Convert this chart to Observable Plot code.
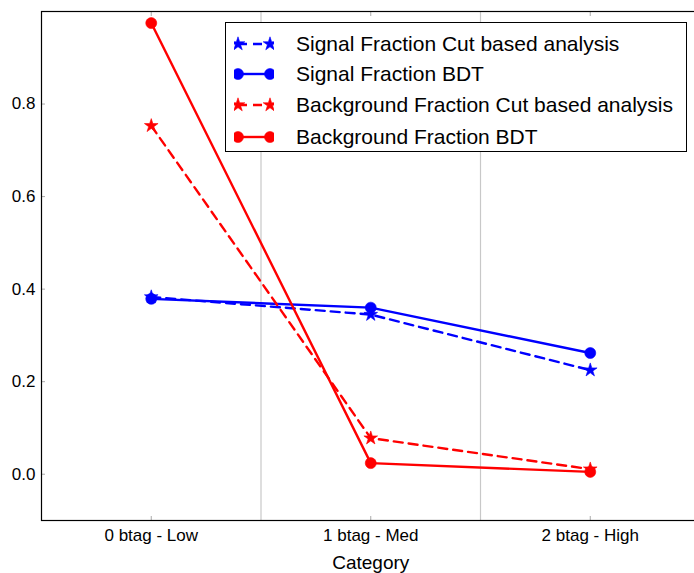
<!DOCTYPE html>
<html><head><meta charset="utf-8">
<script src="https://cdn.jsdelivr.net/npm/d3@7"></script>
<script src="https://cdn.jsdelivr.net/npm/@observablehq/plot@0.6"></script>
<style>
html,body{margin:0;padding:0;background:#fff;}
#wrap{position:relative;width:694px;height:573px;overflow:hidden;font-family:"Liberation Sans",Arial,Helvetica,sans-serif;}
#wrap > svg{max-width:none !important;width:700px;height:573px;}
#legend{position:absolute;left:225px;top:22px;width:462px;height:130px;border:1.3px solid #000;background:#fff;box-sizing:border-box;}
.row{position:absolute;left:0;height:30px;display:flex;align-items:center;}
.row svg{margin-left:8px;}
.row span{font-size:21px;color:#000;margin-left:22px;white-space:nowrap;}
</style></head>
<body><div id="wrap"><div id="legend"></div></div>
<script>
const categories = ["0 btag - Low", "1 btag - Med", "2 btag - High"];
const seriesNames = ["Signal Fraction Cut based analysis", "Signal Fraction BDT", "Background Fraction Cut based analysis", "Background Fraction BDT"];
const sigCut = [0.383, 0.345, 0.225];
const sigBDT = [0.379, 0.360, 0.262];
const bkgCut = [0.753, 0.078, 0.011];
const bkgBDT = [0.975, 0.024, 0.005];
const yTicks = [0.0, 0.2, 0.4, 0.6, 0.8];

const styles = [
  {color: "#0000ff", dash: "9,6", symbol: "star", values: sigCut},
  {color: "#0000ff", dash: null, symbol: "circle", values: sigBDT},
  {color: "#ff0000", dash: "9,6", symbol: "star", values: bkgCut},
  {color: "#ff0000", dash: null, symbol: "circle", values: bkgBDT}
];

const data = [];
styles.forEach((s, k) => s.values.forEach((v, i) => data.push({series: seriesNames[k], i, v, k})));

const marks = [
  Plot.ruleX([0.5, 1.5], {stroke: "#c8c8c8", strokeWidth: 1.2}),
  Plot.axisX({anchor: "bottom", ticks: [0, 1, 2], tickSize: -4, tickPadding: 12, stroke: "#aaa",
    tickFormat: i => categories[i], fontSize: 17, label: null}),
  Plot.axisX({anchor: "top", ticks: [0, 1, 2], tickSize: -4, stroke: "#aaa", tickFormat: () => "", label: null}),
  Plot.axisY({anchor: "left", ticks: yTicks, tickSize: -4, tickPadding: 10, stroke: "#aaa",
    tickFormat: d3.format(".1f"), fontSize: 17, label: null}),
  Plot.frame({stroke: "#000", strokeWidth: 1.2})
];
styles.forEach((s, k) => {
  const d = data.filter(r => r.k === k);
  marks.push(Plot.line(d, {x: "i", y: "v", stroke: s.color, strokeWidth: 2.4, strokeDasharray: s.dash}));
  marks.push(Plot.dot(d, {x: "i", y: "v", fill: s.color, stroke: s.color, strokeWidth: 0.6, symbol: s.symbol, r: s.symbol === "star" ? 4.3 : 5.5}));
});
marks.push(Plot.text(["Category"], {frameAnchor: "bottom", dy: 48, lineAnchor: "bottom", fontSize: 19, fill: "#000"}));

const chart = Plot.plot({
  width: 700, height: 573,
  marginTop: 11, marginLeft: 41, marginRight: 0.5, marginBottom: 53,
  style: {fontFamily: "'Liberation Sans', Arial, Helvetica, sans-serif", fontSize: "17px", color: "#000", background: "#fff", maxWidth: "none"},
  x: {type: "linear", domain: [-0.5, 2.5]},
  y: {domain: [-0.1, 1.0]},
  marks
});
chart.style.maxWidth = "none";
const wrap = document.getElementById("wrap");
wrap.insertBefore(chart, wrap.firstChild);

// legend
const legend = document.getElementById("legend");
const rowTops = [6, 36, 67, 99];
styles.forEach((s, k) => {
  const row = document.createElement("div");
  row.className = "row";
  row.style.top = rowTops[k] + "px";
  const ns = "http://www.w3.org/2000/svg";
  const svg = document.createElementNS(ns, "svg");
  svg.setAttribute("width", 40); svg.setAttribute("height", 30);
  const line = document.createElementNS(ns, "line");
  line.setAttribute("x1", 4); line.setAttribute("x2", 36); line.setAttribute("y1", 15); line.setAttribute("y2", 15);
  line.setAttribute("stroke", s.color); line.setAttribute("stroke-width", 2.4);
  if (s.dash) line.setAttribute("stroke-dasharray", s.dash);
  svg.appendChild(line);
  const sym = s.symbol === "star" ? d3.symbolStar : d3.symbolCircle;
  const r = s.symbol === "star" ? 4.3 : 5.5;
  [4, 36].forEach(x => {
    const p = document.createElementNS(ns, "path");
    p.setAttribute("d", d3.symbol(sym, Math.PI * r * r)());
    p.setAttribute("transform", `translate(${x},15)`);
    p.setAttribute("fill", s.color); p.setAttribute("stroke", s.color); p.setAttribute("stroke-width", 0.6);
    svg.appendChild(p);
  });
  row.appendChild(svg);
  const span = document.createElement("span");
  span.textContent = seriesNames[k];
  row.appendChild(span);
  legend.appendChild(row);
});
</script>
</body></html>
